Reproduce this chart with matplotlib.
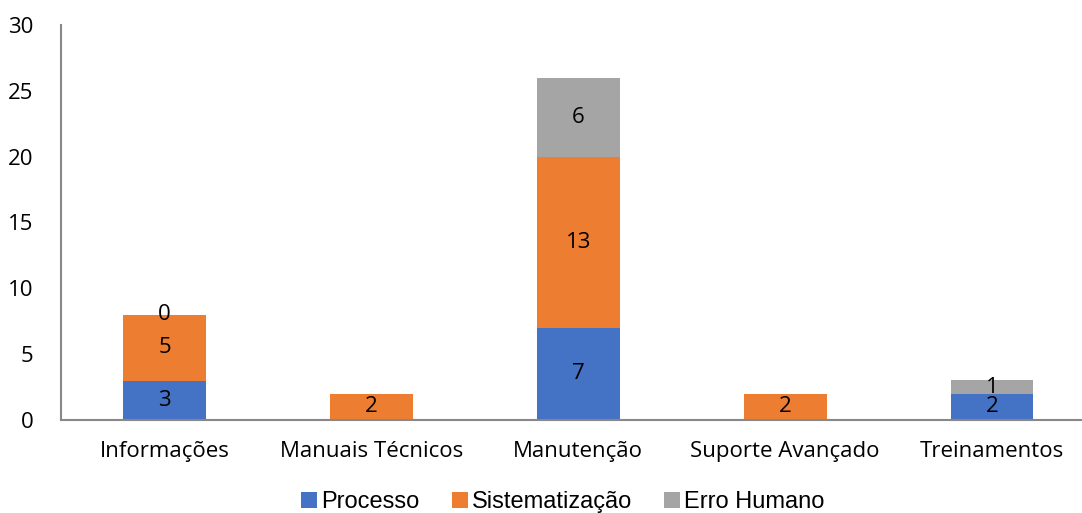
import numpy as np
import matplotlib.pyplot as plt

categories = ['Informações', 'Manuais Técnicos', 'Manutenção', 'Suporte Avançado', 'Treinamentos']
series_names = ['Processo', 'Sistematização', 'Erro Humano']
processo = [3, 0, 7, 0, 2]
sistematizacao = [5, 2, 13, 2, 0]
erro_humano = [0, 0, 6, 0, 1]
# which segments carry a visible label (as in the original chart)
show_labels = [
    [True, False, True, False, True],
    [True, True, True, True, False],
    [True, False, True, False, True],
]
colors = ['#4472C4', '#ED7D31', '#A5A5A5']

fig = plt.figure(figsize=(10.82, 5.13), dpi=100)
ax = fig.add_axes([61 / 1082, 1 - 420 / 513, 1 - 61 / 1082, (420 - 25) / 513])

x = np.arange(len(categories))
bottom = np.zeros(len(categories))
for name, vals, col, shows in zip(series_names, [processo, sistematizacao, erro_humano], colors, show_labels):
    vals = np.array(vals, dtype=float)
    ax.bar(x, vals, width=0.4, bottom=bottom, color=col, label=name, zorder=2)
    for i, v in enumerate(vals):
        if shows[i]:
            ax.text(x[i], bottom[i] + v / 2, '{:d}'.format(int(v)), ha='center', va='center',
                    fontsize=16, family='Open Sans', color='black', zorder=3)
    bottom += vals

ax.set_ylim(0, 30)
ax.set_xlim(-0.5, (1082 - 164) / 207)
ax.set_yticks(range(0, 31, 5))
ax.set_xticks(x)
ax.set_xticklabels(categories, fontsize=16, family='Open Sans')
for lbl in ax.get_yticklabels():
    lbl.set_fontsize(16)
    lbl.set_family('Open Sans')
ax.tick_params(length=0)
ax.tick_params(axis='x', pad=15)
ax.tick_params(axis='y', pad=20)
for s in ['top', 'right']:
    ax.spines[s].set_visible(False)
for s in ['left', 'bottom']:
    ax.spines[s].set_color('#888888')
    ax.spines[s].set_linewidth(1.5)

leg = fig.legend(loc='center', bbox_to_anchor=(0.5 + 22 / 1082, 1 - 502 / 513), ncol=3, frameon=False,
                 prop={'family': 'Liberation Sans', 'size': 17}, handlelength=0.68, handleheight=0.68,
                 handletextpad=0.17, columnspacing=1.36)

fig.savefig('out.png', dpi=100)
